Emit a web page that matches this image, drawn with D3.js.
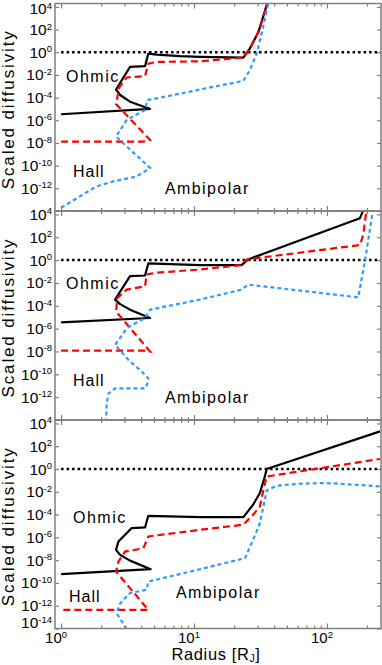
<!DOCTYPE html>
<html>
<head>
<meta charset="utf-8">
<script src="https://cdn.jsdelivr.net/npm/d3@7"></script>
<style>
  body { margin: 0; background: #fff; }
  svg { display: block; font-family: "Liberation Sans", Arial, sans-serif; }
</style>
</head>
<body>
<script>
// [radius in R_J, scaled diffusivity], one set per panel
const ohmic1 = [[1.0, 3.4e-6], [4.67, 1e-5], [3.3, 4.4e-5], [2.78, 1.7e-4], [2.59, 5.2e-4], [3.3, 5.1e-2], [4.28, 5.9e-2], [4.53, 0.76], [5.24, 0.63], [7.85, 0.45], [11.1, 0.39], [23.5, 0.34], [26.3, 2.1], [30.5, 60], [35.5, 2e4]]
const hall1 = [[1.0, 1.3e-8], [4.16, 1.3e-8], [4.67, 1.9e-8], [2.59, 2.7e-5], [2.74, 7.9e-4], [3.12, 6.0e-3], [4.28, 7.9e-3], [4.53, 0.1], [5.24, 0.14], [11.1, 0.16], [23.5, 0.34], [26.3, 2.1], [30.5, 60], [35.8, 2e4]]
const ambi1 = [[1.0, 1.9e-14], [1.39, 2.0e-13], [1.85, 1.5e-12], [2.47, 4.1e-12], [3.71, 1.1e-11], [4.67, 6.3e-11], [2.59, 3.7e-8], [3.12, 1.1e-6], [4.28, 8.1e-6], [4.45, 6.2e-5], [5.24, 8.5e-5], [11.1, 5.2e-4], [23.5, 3.0e-3], [26.3, 2.6e-2], [29.6, 0.78], [33.1, 166], [36.3, 2.5e4]]

const ohmic2 = [[1.0, 3.5e-6], [4.67, 8.5e-6], [3.3, 4.6e-5], [2.78, 1.4e-4], [2.55, 3.5e-4], [3.3, 3.9e-2], [4.28, 4.5e-2], [4.53, 0.51], [11.1, 0.36], [22.8, 0.36], [25.5, 1.15], [177, 4.7e3], [188, 2.5e4]]
const hall2 = [[1.0, 1.2e-8], [4.16, 1.2e-8], [4.67, 1e-8], [2.59, 3.2e-5], [2.65, 4.9e-4], [3.12, 2.6e-3], [4.28, 5.1e-3], [4.4, 5.5e-2], [5.24, 0.08], [11.1, 0.15], [22.2, 0.36], [24.9, 1.15], [177, 21], [188, 180], [198, 2.5e4]]
const ambi2 = [[2.18, 6e-15], [2.2, 2.5e-13], [2.27, 2.1e-12], [2.55, 5.9e-12], [4.3, 5.9e-12], [4.45, 1.5e-11], [4.53, 4.5e-11], [3.92, 2.5e-10], [3.3, 1.3e-9], [2.55, 3.8e-8], [3.12, 1.1e-6], [4.28, 8.5e-6], [4.67, 4.6e-5], [11.1, 3.5e-4], [22.8, 2.6e-3], [25.5, 7.2e-3], [172, 5.5e-4], [193, 0.81], [222, 2.5e4]]

const ohmic3 = [[1.0, 5.9e-10], [4.72, 1.6e-9], [3.3, 9.1e-9], [2.78, 2.9e-8], [2.59, 7.9e-8], [2.7, 4.3e-7], [3.4, 6.5e-6], [4.28, 7.4e-6], [4.53, 7.8e-5], [11.1, 6.0e-5], [23.5, 6.0e-5], [27.8, 7.2e-4], [31.3, 7.8e-3], [34.1, 0.22], [35.2, 1], [251, 2.0e3]]
const hall3 = [[1.04, 4.3e-13], [4.53, 4.3e-13], [2.59, 1e-9], [2.7, 7.4e-9], [3.03, 5.6e-8], [4.16, 1.1e-7], [4.53, 1.2e-6], [11.1, 4.6e-6], [23.5, 1.3e-5], [27.8, 9.5e-5], [31.3, 5.1e-4], [33.1, 1.1e-2], [35.2, 0.22], [251, 7.6]]
const ambi3 = [[3.3, 2.5e-15], [3.12, 8.5e-15], [2.62, 2.1e-13], [2.78, 1.6e-12], [3.3, 1.3e-11], [4.4, 2.5e-11], [4.53, 1.3e-10], [11.1, 1.6e-9], [24.2, 1.5e-8], [27.8, 6.0e-7], [31.3, 1.8e-5], [34.1, 2.0e-3], [35.2, 1.3e-2], [41.8, 3.4e-2], [62.6, 5.1e-2], [98.9, 5.9e-2], [251, 3.0e-2]]

const unity = 1
const xDomain = [0.9, 255]
const yDomain = [1e-14, 2e4]
const xMajor = [1, 10, 100]
const xMinor = [2, 3, 4, 5, 6, 7, 8, 9, 20, 30, 40, 50, 60, 70, 80, 90, 200]
const yMajor = [1e4, 1e2, 1, 1e-2, 1e-4, 1e-6, 1e-8, 1e-10, 1e-12, 1e-14]

const panels = [
    { ohmic: ohmic1, hall: hall1, ambi: ambi1 },
    { ohmic: ohmic2, hall: hall2, ambi: ambi2 },
    { ohmic: ohmic3, hall: hall3, ambi: ambi3 }
]

// layout
const W = 382, H = 665
const left = 55, right = 381
const tops = [3.5, 211, 420], bottoms = [211, 420, 628.5]
// text placement relative to each panel top: [x, baseline]
const textPos = [
    { ohmic: [66, 78], hall: [73, 173], ambi: [165, 190.5] },
    { ohmic: [66, 78], hall: [73, 174.5], ambi: [165, 192] },
    { ohmic: [73, 102.5], hall: [69, 181.5], ambi: [176, 178] }
]
const frameColor = "#7f7f7f"

const svg = d3.select("body").append("svg")
    .attr("width", W)
    .attr("height", H)

const x = d3.scaleLog().domain(xDomain).range([left, right])

function addPow(text, exp, supSize) {
    text.append("tspan").text("10")
    text.append("tspan").attr("dy", -5.5).attr("font-size", supSize).text(exp)
}

panels.forEach((p, i) => {
    const top = tops[i], bottom = bottoms[i]
    const y = d3.scaleLog().domain(yDomain).range([bottom, top])
    const g = svg.append("g")

    svg.append("clipPath").attr("id", "clip" + i)
        .append("rect")
        .attr("x", left).attr("y", top)
        .attr("width", right - left).attr("height", bottom - top)

    const line = d3.line().x(d => x(d[0])).y(d => y(d[1]))
    const plot = g.append("g").attr("clip-path", `url(#clip${i})`)

    // unity level
    plot.append("path")
        .datum([[1, unity], [xDomain[1], unity]])
        .attr("d", line)
        .attr("fill", "none")
        .attr("stroke", "#000")
        .attr("stroke-width", 2.5)
        .attr("stroke-dasharray", "2.5,3")

    plot.append("path").datum(p.ohmic).attr("d", line)
        .attr("fill", "none").attr("stroke", "#000").attr("stroke-width", 2.2)
        .attr("stroke-linejoin", "round")
    plot.append("path").datum(p.hall).attr("d", line)
        .attr("fill", "none").attr("stroke", "#ff0000").attr("stroke-width", 2.2)
        .attr("stroke-dasharray", "7,4")
    plot.append("path").datum(p.ambi).attr("d", line)
        .attr("fill", "none").attr("stroke", "#3399ff").attr("stroke-width", 2.2)
        .attr("stroke-dasharray", "4,3")

    // frame
    g.append("rect")
        .attr("x", left).attr("y", top)
        .attr("width", right - left).attr("height", bottom - top)
        .attr("fill", "none").attr("stroke", frameColor).attr("stroke-width", 1.5)

    // ticks, all pointing inward
    const axes = [
        [d3.axisLeft(y).tickValues(yMajor).tickSize(-4), `translate(${left},0)`],
        [d3.axisRight(y).tickValues(yMajor).tickSize(-4), `translate(${right},0)`],
        [d3.axisBottom(x).tickValues(xMajor).tickSize(-5), `translate(0,${bottom})`],
        [d3.axisBottom(x).tickValues(xMinor).tickSize(-3), `translate(0,${bottom})`],
        [d3.axisTop(x).tickValues(xMajor).tickSize(-5), `translate(0,${top})`],
        [d3.axisTop(x).tickValues(xMinor).tickSize(-3), `translate(0,${top})`]
    ]
    axes.forEach(([ax, tr]) => {
        g.append("g").attr("transform", tr)
            .call(ax.tickFormat(""))
            .call(s => s.select(".domain").remove())
            .call(s => s.selectAll(".tick line").attr("stroke", frameColor).attr("stroke-width", 1.2))
            .call(s => s.selectAll(".tick text").remove())
    })

    // y tick labels
    const shown = i < 2 ? yMajor.filter(v => v > 1e-14) : yMajor
    shown.forEach(v => {
        const t = g.append("text")
            .attr("x", left - 3)
            .attr("y", Math.min(Math.max(y(v) + 5.5, 14), 628))
            .attr("text-anchor", "end")
            .attr("font-size", 15.5)
            .attr("fill", "#000")
        addPow(t, String(Math.round(Math.log10(v))), 9.5)
    })

    // y title
    g.append("text")
        .attr("transform", `translate(14,${(top + bottom) / 2 + 3}) rotate(-90)`)
        .attr("text-anchor", "middle")
        .attr("font-size", 17)
        .attr("textLength", 158)
        .attr("lengthAdjust", "spacing")
        .text("Scaled diffusivity")

    // curve names
    const tp = textPos[i]
    ;[["Ohmic", tp.ohmic, 1.5], ["Hall", tp.hall, 1.0], ["Ambipolar", tp.ambi, 1.4]].forEach(([name, pos, ls]) => {
        g.append("text")
            .attr("x", pos[0])
            .attr("y", top + pos[1])
            .attr("font-size", 16)
            .attr("letter-spacing", ls)
            .text(name)
    })

    // x tick labels on the bottom panel only
    if (i === panels.length - 1) {
        xMajor.forEach(v => {
            const t = g.append("text")
                .attr("x", x(v) - 5)
                .attr("y", 643)
                .attr("text-anchor", "middle")
                .attr("font-size", 15)
            addPow(t, String(Math.round(Math.log10(v))), 9.5)
        })
    }
})

// x title
const xt = svg.append("text")
    .attr("x", 216)
    .attr("y", 660)
    .attr("text-anchor", "middle")
    .attr("font-size", 16.5)
    .attr("letter-spacing", 0.6)
xt.append("tspan").text("Radius [R")
xt.append("tspan").attr("dy", 2).attr("font-size", 10.5).text("J")
xt.append("tspan").attr("dy", -2).text("]")
</script>
</body>
</html>
